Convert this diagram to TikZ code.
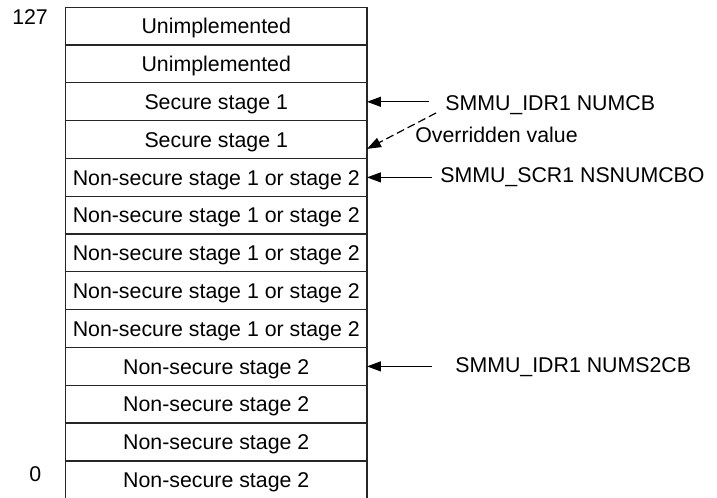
\documentclass[tikz,border=0pt]{standalone}
\usepackage{fontspec}
\setmainfont{Liberation Sans}
\usetikzlibrary{arrows.meta}
\begin{document}
\begin{tikzpicture}[x=0.75pt,y=-0.75pt,
  row/.style={draw=black!85, line width=0.9pt, minimum width=226.1pt, minimum height=28.35pt,
    inner sep=0pt, outer sep=0pt, text height=11.5pt, text depth=0pt,
    font=\fontsize{16}{19}\selectfont},
  lbl/.style={anchor=base west, inner sep=0pt, font=\fontsize{16}{19}\selectfont},
  arr/.style={line width=0.9pt, -{Triangle[length=10.5pt,width=7.5pt]}},
]
\useasboundingbox (0,0) rectangle (717,498);
\node[row] (r1)  at (216.25,26.2)  {Unimplemented};
\node[row] (r2)  at (216.25,64.0)  {Unimplemented};
\node[row] (r3)  at (216.25,101.8) {Secure stage 1};
\node[row] (r4)  at (216.25,139.6) {Secure stage 1};
\node[row] (r5)  at (216.25,177.4) {Non-secure stage 1 or stage 2};
\node[row] (r6)  at (216.25,215.2) {Non-secure stage 1 or stage 2};
\node[row] (r7)  at (216.25,253.0) {Non-secure stage 1 or stage 2};
\node[row] (r8)  at (216.25,290.8) {Non-secure stage 1 or stage 2};
\node[row] (r9)  at (216.25,328.6) {Non-secure stage 1 or stage 2};
\node[row] (r10) at (216.25,366.4) {Non-secure stage 2};
\node[row] (r11) at (216.25,404.2) {Non-secure stage 2};
\node[row] (r12) at (216.25,442.0) {Non-secure stage 2};
\node[row] (r13) at (216.25,479.8) {Non-secure stage 2};

\node[lbl] (top) at (12,25) {127};
\node[lbl] (bot) at (29,481) {0};

\node[lbl] (l1) at (445,111) {SMMU\_IDR1 NUMCB};
\node[lbl] (l2) at (415,143) {Overridden value};
\node[lbl] (l3) at (440,183) {SMMU\_SCR1 NSNUMCBO};
\node[lbl] (l4) at (455,373) {SMMU\_IDR1 NUMS2CB};

\coordinate (a1) at (429,101.8);
\coordinate (a2) at (436,113);
\coordinate (a3) at (432,177.4);
\coordinate (a4) at (432,366.4);

\draw[arr] (a1) -- (r3.east);
\draw[arr, dash pattern=on 6pt off 3pt] (a2) -- ([yshift=-7pt]r4.east);
\draw[arr] (a3) -- (r5.east);
\draw[arr] (a4) -- (r10.east);
\end{tikzpicture}
\end{document}
